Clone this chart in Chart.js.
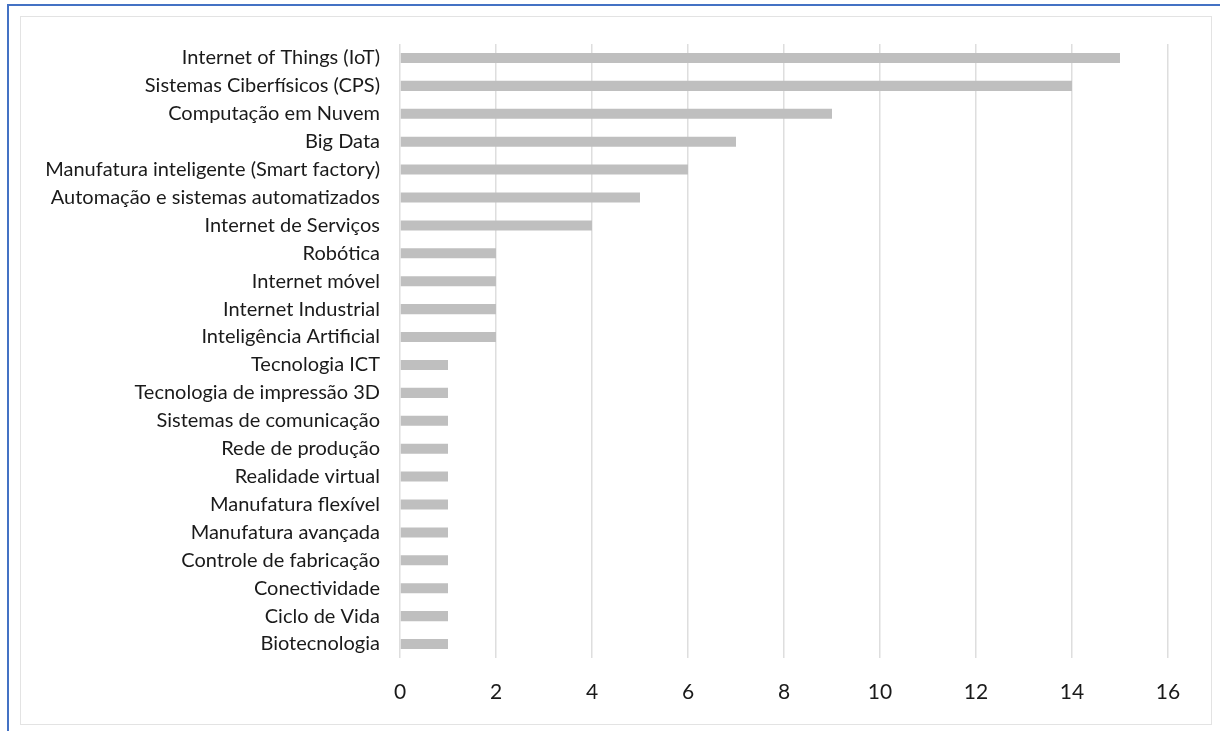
<!DOCTYPE html>
<html>
<head>
<meta charset="utf-8">
<script src="https://cdn.jsdelivr.net/npm/chart.js@4.4.0/dist/chart.umd.min.js"></script>
<style>
  html, body { margin: 0; padding: 0; background: #fff; }
  #wrap { position: relative; width: 1220px; height: 731px; overflow: hidden; }
  #outer { position: absolute; left: 7px; top: 4px; width: 1300px; height: 800px;
           border-top: 2px solid #4472c4; border-left: 2px solid #4472c4; }
  #inner { position: absolute; left: 20px; top: 16px; width: 1190px; height: 707px;
           border: 1px solid #e3e3e3; }
  canvas { position: absolute; left: 0; top: 0; }
</style>
</head>
<body>
<div id="wrap">
  <div id="outer"></div>
  <div id="inner"></div>
  <canvas id="barChart" width="1220" height="731"></canvas>
</div>
<script>
var categories = [
    'Internet of Things (IoT)', 'Sistemas Ciberfísicos (CPS)', 'Computação em Nuvem', 'Big Data',
    'Manufatura inteligente (Smart factory)', 'Automação e sistemas automatizados', 'Internet de Serviços',
    'Robótica', 'Internet móvel', 'Internet Industrial', 'Inteligência Artificial', 'Tecnologia ICT',
    'Tecnologia de impressão 3D', 'Sistemas de comunicação', 'Rede de produção', 'Realidade virtual',
    'Manufatura flexível', 'Manufatura avançada', 'Controle de fabricação', 'Conectividade',
    'Ciclo de Vida', 'Biotecnologia'
];
var counts = [15, 14, 9, 7, 6, 5, 4, 2, 2, 2, 2, 1, 1, 1, 1, 1, 1, 1, 1, 1, 1, 1];
var xTicks = [0, 2, 4, 6, 8, 10, 12, 14, 16];

var ctx = document.getElementById('barChart');
new Chart(ctx, {
    type: 'bar',
    data: {
        labels: categories,
        datasets: [{
            data: counts,
            backgroundColor: '#bfbfbf',
            barPercentage: 0.72,
            categoryPercentage: 0.5
        }]
    },
    options: {
        indexAxis: 'y',
        responsive: false,
        animation: false,
        layout: { padding: { top: 44, right: 52, bottom: 0, left: 0 } },
        plugins: { legend: { display: false }, tooltip: { enabled: false } },
        scales: {
            x: {
                min: xTicks[0],
                max: xTicks[xTicks.length - 1],
                afterBuildTicks: function(scale) {
                    scale.ticks = xTicks.map(function(v) { return { value: v }; });
                },
                afterFit: function(scale) { scale.height = 73; },
                grid: { color: '#dedede', lineWidth: 1.5, drawTicks: false },
                border: { display: false },
                ticks: {
                    padding: 22,
                    color: '#1a1a1a',
                    font: { family: 'Lato', size: 21 }
                }
            },
            y: {
                afterFit: function(scale) { scale.width = 400; },
                grid: { display: false, drawTicks: false },
                border: { display: false },
                ticks: {
                    padding: 20,
                    color: '#1a1a1a',
                    font: { family: 'Lato', size: 20 }
                }
            }
        }
    }
});
</script>
</body>
</html>
